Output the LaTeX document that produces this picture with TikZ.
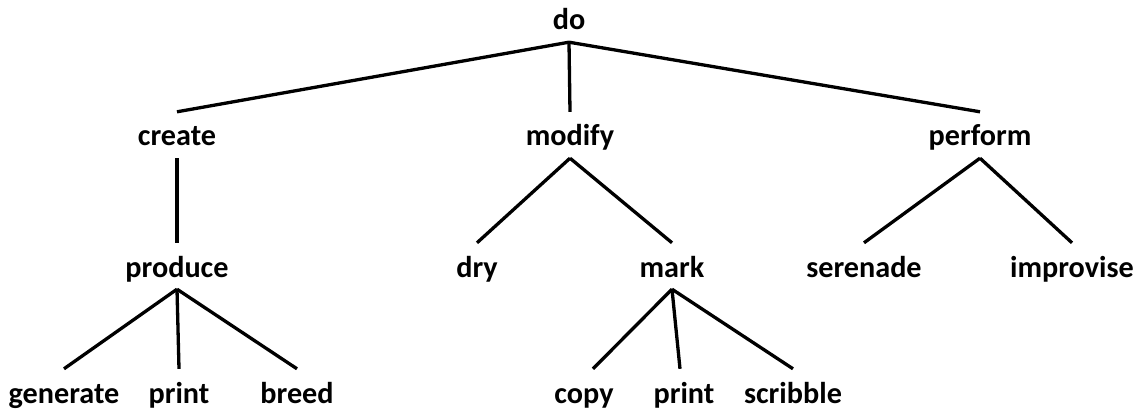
\documentclass[tikz,border=0pt]{standalone}
\usepackage{fontspec}
\setmainfont{Carlito}
\begin{document}
\begin{tikzpicture}[x=1pt,y=-1pt,
  word/.style={anchor=base,inner xsep=0pt,inner ysep=10pt,text height=24pt,text depth=2pt,
    font=\fontsize{30.2}{35}\selectfont\bfseries},
  edge/.style={line width=3.3pt}]
\useasboundingbox (0,0) rectangle (1138,409);
\node[word] (do) at (569,30) {do};
\node[word] (create) at (177,146) {create};
\node[word] (modify) at (570,146) {modify};
\node[word] (perform) at (980,146) {perform};
\node[word] (produce) at (177,277) {produce};
\node[word] (dry) at (477,277) {dry};
\node[word] (mark) at (672,277) {mark};
\node[word] (serenade) at (864,277) {serenade};
\node[word] (improvise) at (1072,277) {improvise};
\node[word] (generate) at (64,403) {generate};
\node[word] (printa) at (179,403) {print};
\node[word] (breed) at (297,403) {breed};
\node[word] (copy) at (584,403) {copy};
\node[word] (printb) at (684,403) {print};
\node[word] (scribble) at (793,403) {scribble};
\draw[edge] (do.south) -- (create.north);
\draw[edge] (do.south) -- (modify.north);
\draw[edge] (do.south) -- (perform.north);
\draw[edge] (create.south) -- (produce.north);
\draw[edge] (modify.south) -- (dry.north);
\draw[edge] (modify.south) -- (mark.north);
\draw[edge] (perform.south) -- (serenade.north);
\draw[edge] (perform.south) -- (improvise.north);
\draw[edge] (produce.south) -- (generate.north);
\draw[edge] (produce.south) -- (printa.north);
\draw[edge] (produce.south) -- (breed.north);
\draw[edge] (mark.south) -- ([xshift=9pt]copy.north);
\draw[edge] (mark.south) -- ([xshift=-4pt]printb.north);
\draw[edge] (mark.south) -- (scribble.north);
\end{tikzpicture}
\end{document}
